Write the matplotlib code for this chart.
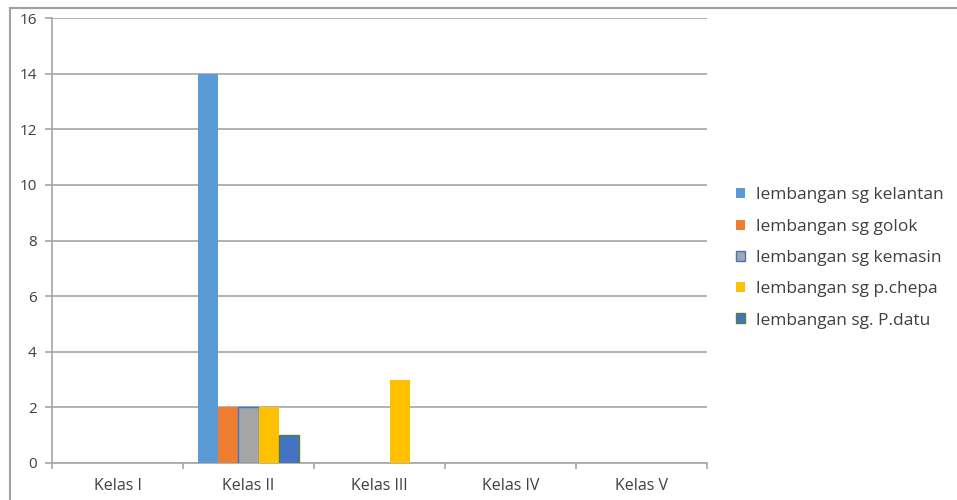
import numpy as np
import matplotlib
matplotlib.use("Agg")
import matplotlib.pyplot as plt
from matplotlib.patches import Patch
from matplotlib.lines import Line2D

plt.rcParams['font.family'] = ['Open Sans', 'DejaVu Sans']

categories = ["Kelas I", "Kelas II", "Kelas III", "Kelas IV", "Kelas V"]
series_names = [
    "lembangan sg kelantan",
    "lembangan sg golok",
    "lembangan sg kemasin",
    "lembangan sg p.chepa",
    "lembangan sg. P.datu",
]
kelantan = [0, 14, 0, 0, 0]
golok = [0, 2, 0, 0, 0]
kemasin = [0, 2, 0, 0, 0]
p_chepa = [0, 2, 3, 0, 0]
p_datu = [0, 1, 0, 0, 0]
y_ticks = [0, 2, 4, 6, 8, 10, 12, 14, 16]

series = [kelantan, golok, kemasin, p_chepa, p_datu]
fills = ["#5B9BD5", "#ED7D31", "#A5A5A5", "#FFC000", "#4472C4"]
edges = [None, None, "#4472C4", None, "#548235"]

text_color = "#404040"
grid_color = "#A6A6A6"

fig = plt.figure(figsize=(9.57, 5.0), dpi=100)
ax = fig.add_axes([52 / 957, 37 / 500, 655 / 957, 445 / 500])

x = np.arange(len(categories))
width = 0.155
for i, (vals, name) in enumerate(zip(series, series_names)):
    vals = np.array(vals, dtype=float)
    keep = vals > 0
    ax.bar(x[keep] + (i - 2) * width, vals[keep], width=width,
           color=fills[i],
           edgecolor=edges[i] if edges[i] else fills[i],
           linewidth=1.0 if edges[i] else 0, zorder=3)

ax.set_xlim(-0.5, len(categories) - 0.5)
ax.set_ylim(0, 16)
ax.set_yticks(y_ticks)
ax.set_yticklabels([str(v) for v in y_ticks])
ax.set_xticks(x)
ax.set_xticklabels(categories)
ax.set_xticks(np.arange(len(categories) + 1) - 0.5, minor=True)

ax.yaxis.grid(True, color=grid_color, linewidth=1.2, zorder=0)
for side in ["top", "right"]:
    ax.spines[side].set_visible(False)
ax.spines["left"].set_color(grid_color)
ax.spines["left"].set_linewidth(1.2)
ax.spines["bottom"].set_color(grid_color)
ax.spines["bottom"].set_linewidth(1.2)

ax.tick_params(axis="y", length=5, width=1.2, color=grid_color, pad=6,
               labelsize=11, labelcolor=text_color)
ax.tick_params(axis="x", which="major", length=0, pad=10.5,
               labelsize=11.5, labelcolor=text_color)
ax.tick_params(axis="x", which="minor", length=4.3, width=1.2,
               color=grid_color, direction="out")

handles = [Patch(facecolor=fills[i],
                 edgecolor=edges[i] if edges[i] else fills[i],
                 linewidth=1.0 if edges[i] else 0)
           for i in range(len(series))]
fig.legend(handles, series_names, loc="center left",
           bbox_to_anchor=(736 / 957, 1 - 258 / 500), frameon=False,
           fontsize=12.5, labelcolor=text_color, borderpad=0,
           borderaxespad=0, handlelength=0.5, handleheight=0.5,
           handletextpad=0.65, labelspacing=0.88)

# chart area border (left and top edges)
fig.add_artist(Line2D([10 / 957, 10 / 957], [0, 1 - 8 / 500],
                      transform=fig.transFigure, color="#A0A0A0", linewidth=1.5))
fig.add_artist(Line2D([10 / 957, 1], [1 - 8 / 500, 1 - 8 / 500],
                      transform=fig.transFigure, color="#A0A0A0", linewidth=1.5))

fig.savefig("out.png", dpi=100)
